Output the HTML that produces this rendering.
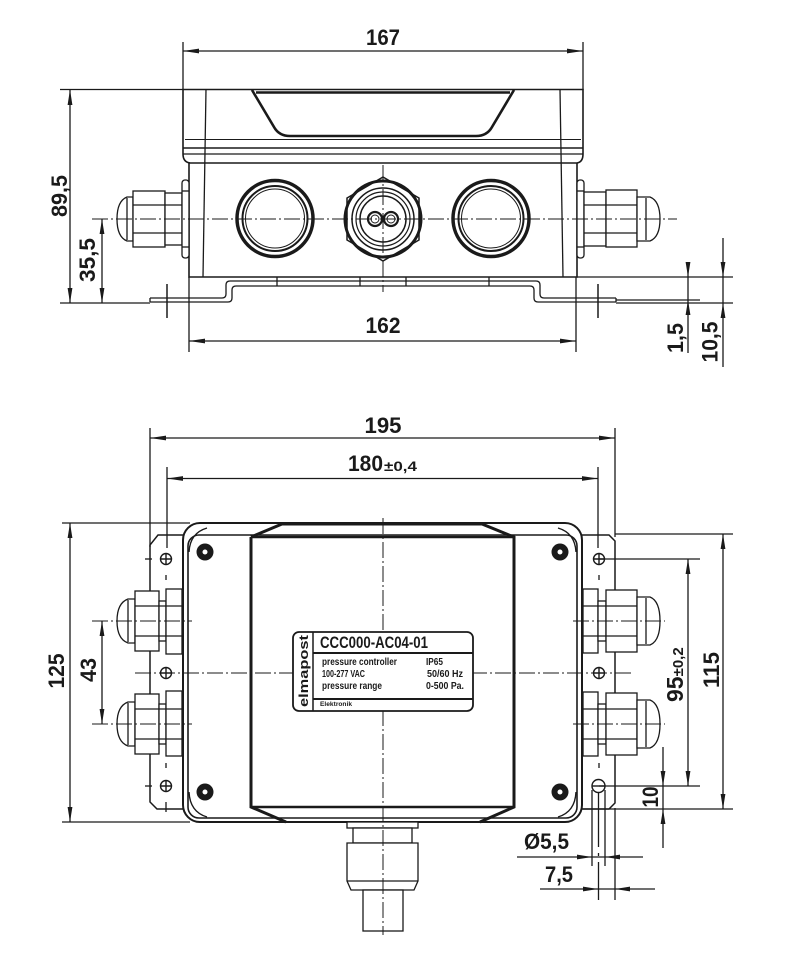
<!DOCTYPE html>
<html><head><meta charset="utf-8">
<style>
html,body{margin:0;padding:0;background:#fff;}
svg{display:block;}
text{font-family:"Liberation Sans",Arial,sans-serif;font-weight:bold;fill:#1a1a1a;}
.cl{stroke-dasharray:16 3 2 3;stroke-width:1;}
.ar{fill:#1a1a1a;stroke:none;}
</style></head><body>
<svg width="800" height="975" viewBox="0 0 800 975" xmlns="http://www.w3.org/2000/svg">
<rect x="0" y="0" width="800" height="975" fill="#fff"/>
<g fill="none" stroke="#1a1a1a" stroke-width="1.3">

<!-- ================= TOP VIEW ================= -->
<!-- 167 -->
<line x1="183" y1="42" x2="183" y2="90"/>
<line x1="583" y1="42" x2="583" y2="90"/>
<line x1="183" y1="51" x2="583" y2="51"/>
<polygon class="ar" points="183,51 199,48.6 199,53.4"/>
<polygon class="ar" points="583,51 567,48.6 567,53.4"/>

<!-- lid -->
<path d="M190,163 Q183,162 183,154 L183,89.5 L583,89.5 L583,154 Q583,162 577,163" stroke-width="1.6"/>
<line x1="256" y1="92.5" x2="510" y2="92.5" stroke-width="2.6"/>
<path d="M252,90 L274,127 Q279,136 290,136 L476,136 Q487,136 492,127 L514,90" stroke-width="2.6"/>
<line x1="206" y1="89" x2="203" y2="277"/>
<line x1="560" y1="89" x2="563" y2="277"/>
<line x1="185" y1="139.5" x2="581" y2="139.5" stroke-width="1"/>
<line x1="183" y1="148" x2="583" y2="148" stroke-width="1.6"/>
<line x1="183" y1="154" x2="583" y2="154" stroke-width="1.3"/>
<line x1="189" y1="163" x2="577" y2="163" stroke-width="1.6"/>
<!-- body -->
<path d="M189,163 L189,277 L577,277 L577,163" stroke-width="1.6"/>
<!-- base plate -->
<path d="M150,298 L222,298 Q226,298 226,294 L226,285 Q226,281 230,281 L536,281 Q540,281 540,285 L540,294 Q540,298 544,298 L616,298"/>
<path d="M150,302 L228,302 Q232,302 232,298 L232,290 Q232,286 236,286 L530,286 Q534,286 534,290 L534,298 Q534,302 538,302 L616,302"/>
<line x1="150" y1="298" x2="150" y2="302"/>
<line x1="616" y1="298" x2="616" y2="302"/>
<line x1="277" y1="277" x2="277" y2="286"/>
<line x1="360" y1="277" x2="360" y2="286"/>
<line x1="406" y1="277" x2="406" y2="286"/>
<line x1="489" y1="277" x2="489" y2="286"/>
<line x1="167" y1="284" x2="167" y2="318" stroke-width="1.5"/>
<line x1="598" y1="284" x2="598" y2="318" stroke-width="1.5"/>

<!-- holes -->
<circle cx="275" cy="218.5" r="38" stroke-width="3.5"/>
<circle cx="275" cy="218.5" r="32.5" stroke-width="2"/>
<circle cx="275" cy="218.5" r="29.5" stroke-width="1"/>
<circle cx="491" cy="218.5" r="38" stroke-width="3.5"/>
<circle cx="491" cy="218.5" r="32.5" stroke-width="2"/>
<circle cx="491" cy="218.5" r="29.5" stroke-width="1"/>
<!-- center gland front -->
<polygon points="383,177 419,198 419,240 383,261 347,240 347,198" stroke-width="1.5"/>
<circle cx="383" cy="219" r="38" stroke-width="3"/>
<circle cx="383" cy="219" r="31" stroke-width="1.5"/>
<circle cx="383" cy="219" r="27" stroke-width="1.2"/>
<circle cx="383" cy="219" r="23" stroke-width="1.5"/>
<circle cx="375" cy="219" r="7" stroke-width="2.2"/>
<circle cx="391" cy="219" r="7" stroke-width="2.2"/>
<circle cx="375" cy="219" r="4" stroke-width="1"/>
<circle cx="391" cy="219" r="4" stroke-width="1"/>

<!-- left gland (top view) -->
<g fill="#fff">
<path d="M133,197 L127,197 Q117,201 117,219 Q117,237 127,241 L133,241 Z"/>
<rect x="133" y="191" width="32" height="56"/>
<rect x="165" y="193" width="17" height="52"/>
<rect x="182" y="180" width="7" height="78" rx="3"/>
</g>
<line x1="127" y1="198" x2="127" y2="240"/>
<line x1="133" y1="205" x2="182" y2="205"/>
<line x1="133" y1="233" x2="182" y2="233"/>
<line x1="182" y1="191" x2="189" y2="191"/>
<line x1="182" y1="247" x2="189" y2="247"/>
<!-- right gland (top view) -->
<g fill="#fff">
<rect x="577" y="180" width="7" height="78" rx="3"/>
<rect x="584" y="192" width="22" height="54"/>
<rect x="606" y="190" width="31" height="57"/>
<path d="M637,197 L650,197 Q660,201 660,219 Q660,237 650,241 L637,241 Z"/>
</g>
<line x1="646" y1="198" x2="646" y2="240"/>
<line x1="584" y1="205" x2="637" y2="205"/>
<line x1="584" y1="233" x2="637" y2="233"/>
<line x1="577" y1="191" x2="584" y2="191"/>
<line x1="577" y1="247" x2="584" y2="247"/>

<!-- centerlines top -->
<line class="cl" x1="92" y1="219" x2="677" y2="219"/>
<line class="cl" x1="383" y1="165" x2="383" y2="292"/>

<!-- left dims top -->
<line x1="60" y1="89.5" x2="183" y2="89.5"/>
<line x1="70" y1="89.5" x2="70" y2="303"/>
<polygon class="ar" points="70,89.5 67.6,105 72.4,105"/>
<polygon class="ar" points="70,303 67.6,288 72.4,288"/>
<line x1="60" y1="303" x2="150" y2="303"/>
<line x1="102" y1="219" x2="102" y2="303"/>
<polygon class="ar" points="102,219 99.6,234 104.4,234"/>
<polygon class="ar" points="102,303 99.6,288 104.4,288"/>

<!-- 162 -->
<line x1="189" y1="277" x2="189" y2="352"/>
<line x1="576" y1="277" x2="576" y2="352"/>
<line x1="189" y1="341" x2="576" y2="341"/>
<polygon class="ar" points="189,341 205,338.6 205,343.4"/>
<polygon class="ar" points="576,341 560,338.6 560,343.4"/>

<!-- right dims top -->
<line x1="577" y1="277" x2="733" y2="277"/>
<line x1="616" y1="300" x2="700" y2="300"/>
<line x1="616" y1="303" x2="733" y2="303"/>
<line x1="688" y1="262" x2="688" y2="353"/>
<polygon class="ar" points="688,277 685.6,262 690.4,262"/>
<polygon class="ar" points="688,300 685.6,315 690.4,315"/>
<line x1="723" y1="238" x2="723" y2="367"/>
<polygon class="ar" points="723,277 720.6,262 725.4,262"/>
<polygon class="ar" points="723,303 720.6,318 725.4,318"/>

<!-- ================= BOTTOM VIEW ================= -->
<!-- 195 -->
<line x1="150" y1="428" x2="150" y2="547"/>
<line x1="615" y1="428" x2="615" y2="537"/>
<line x1="150" y1="438" x2="615" y2="438"/>
<polygon class="ar" points="150,438 166,435.6 166,440.4"/>
<polygon class="ar" points="615,438 599,435.6 599,440.4"/>
<!-- 180 -->
<line x1="167" y1="467" x2="167" y2="548"/>
<line x1="598" y1="467" x2="598" y2="548"/>
<line x1="167" y1="478.5" x2="598" y2="478.5"/>
<polygon class="ar" points="167,478.5 183,476.1 183,480.9"/>
<polygon class="ar" points="598,478.5 582,476.1 582,480.9"/>

<!-- plates -->
<path d="M183,535 L158,535 L150,545 L150,802 L157,809 L183,809" stroke-width="1.5"/>
<path d="M582,535 L609,535 L615,541 L615,803 L609,809 L582,809" stroke-width="1.5"/>
<line x1="166" y1="575" x2="166" y2="580"/>
<line x1="166" y1="763" x2="166" y2="768"/>
<line x1="166" y1="802" x2="166" y2="812"/>
<line x1="599" y1="575" x2="599" y2="580"/>
<line x1="599" y1="763" x2="599" y2="768"/>
<line x1="145" y1="559" x2="152" y2="559"/>
<line x1="145" y1="786" x2="152" y2="786"/>

<!-- box -->
<rect x="183" y="523" width="399" height="299" rx="17" stroke-width="2" fill="#fff"/>
<rect x="188" y="535" width="389" height="283" rx="11" stroke-width="1.6"/>
<path d="M189,552 Q190,533 207,528" stroke-width="1.4"/>
<path d="M576,552 Q575,533 558,528" stroke-width="1.4"/>
<path d="M189,792 Q190,812 207,817" stroke-width="1.4"/>
<path d="M576,792 Q575,812 558,817" stroke-width="1.4"/>
<!-- cover -->
<path d="M251,537 L282,524 L482,524 L514,537 L514,807 L480,822 M251,537 L251,807 L286,822" stroke-width="3"/>
<line x1="251" y1="537" x2="514" y2="537" stroke-width="2.5"/>
<line x1="251" y1="807" x2="514" y2="807" stroke-width="2.5"/>
<!-- screws -->
<g fill="#1a1a1a" stroke="none">
<circle cx="205" cy="552" r="8.5"/><circle cx="560" cy="552" r="8.5"/>
<circle cx="205" cy="792" r="8.5"/><circle cx="560" cy="792" r="8.5"/>
</g>
<g fill="#fff" stroke="none">
<circle cx="205" cy="552" r="2.5"/><circle cx="560" cy="552" r="2.5"/>
<circle cx="205" cy="792" r="2.5"/><circle cx="560" cy="792" r="2.5"/>
</g>
<!-- mounting holes -->
<g stroke-width="1.4">
<circle cx="166" cy="559" r="5.5"/><path d="M160.5,559 H171.5 M166,553.5 V564.5"/>
<circle cx="166" cy="673" r="5.5"/><path d="M160.5,673 H171.5 M166,667.5 V678.5"/>
<circle cx="166" cy="786" r="5.5"/><path d="M160.5,786 H171.5 M166,780.5 V791.5"/>
<circle cx="599" cy="559" r="5.5"/><path d="M593.5,559 H604.5 M599,553.5 V564.5"/>
<circle cx="599" cy="673" r="5.5"/><path d="M593.5,673 H604.5 M599,667.5 V678.5"/>
<circle cx="598.5" cy="786" r="6.5"/><path d="M592,786 H605"/>
</g>

<!-- left glands -->
<g fill="#fff">
<path d="M135,599 L128,599 Q117,603 117,621 Q117,639 128,643 L135,643 Z"/>
<rect x="135" y="591" width="24" height="60"/>
<rect x="159" y="601" width="7" height="40"/>
<rect x="166" y="589" width="16" height="65"/>
<path d="M135,702 L128,702 Q117,706 117,724 Q117,742 128,746 L135,746 Z"/>
<rect x="135" y="694" width="24" height="60"/>
<rect x="159" y="704" width="7" height="40"/>
<rect x="166" y="691" width="16" height="65"/>
</g>
<line x1="128" y1="600" x2="128" y2="642"/>
<line x1="128" y1="703" x2="128" y2="745"/>
<path d="M135,606 H182 M135,636 H182 M135,709 H182 M135,739 H182"/>
<!-- right glands -->
<g fill="#fff">
<rect x="583" y="589" width="15" height="64"/>
<rect x="598" y="601" width="8" height="40"/>
<rect x="606" y="590" width="31" height="62"/>
<path d="M637,597 L650,597 Q660,601 660,621 Q660,641 650,645 L637,645 Z"/>
<rect x="583" y="692" width="15" height="64"/>
<rect x="598" y="704" width="8" height="40"/>
<rect x="606" y="693" width="31" height="62"/>
<path d="M637,700 L650,700 Q660,704 660,724 Q660,744 650,748 L637,748 Z"/>
</g>
<line x1="646" y1="598" x2="646" y2="644"/>
<line x1="646" y1="701" x2="646" y2="747"/>
<path d="M583,606 H637 M583,636 H637 M583,709 H637 M583,739 H637"/>

<!-- bottom gland -->
<g fill="#fff">
<rect x="347" y="822" width="71" height="6"/>
<rect x="353" y="828" width="59" height="15"/>
<path d="M347,843 L418,843 L418,881 L414,890 L351,890 L347,881 Z"/>
<rect x="363" y="890" width="40" height="41"/>
</g>
<line x1="347" y1="881" x2="418" y2="881"/>

<!-- centerlines bottom -->
<line class="cl" x1="135" y1="673" x2="633" y2="673"/>
<line class="cl" x1="383" y1="518" x2="383" y2="935"/>
<line class="cl" x1="92" y1="621" x2="192" y2="621"/>
<line class="cl" x1="92" y1="724" x2="192" y2="724"/>
<line class="cl" x1="573" y1="621" x2="665" y2="621"/>
<line class="cl" x1="573" y1="724" x2="665" y2="724"/>

<!-- label -->
<rect x="293" y="632" width="180" height="79" rx="6" fill="#fff" stroke-width="1.8"/>
<line x1="313" y1="632" x2="313" y2="711" stroke-width="1.5"/>
<line x1="313" y1="653" x2="473" y2="653" stroke-width="2"/>
<line x1="313" y1="699" x2="473" y2="699" stroke-width="2"/>

<!-- left dims bottom -->
<line x1="62" y1="523" x2="190" y2="523"/>
<line x1="62" y1="822" x2="190" y2="822"/>
<line x1="70" y1="523" x2="70" y2="822"/>
<polygon class="ar" points="70,523 67.6,538 72.4,538"/>
<polygon class="ar" points="70,822 67.6,807 72.4,807"/>
<line x1="102" y1="621" x2="102" y2="724"/>
<polygon class="ar" points="102,621 99.6,636 104.4,636"/>
<polygon class="ar" points="102,724 99.6,709 104.4,709"/>

<!-- right dims bottom -->
<line x1="599" y1="559" x2="700" y2="559"/>
<line x1="599" y1="786" x2="700" y2="786"/>
<line x1="688" y1="559" x2="688" y2="786"/>
<polygon class="ar" points="688,559 685.6,574 690.4,574"/>
<polygon class="ar" points="688,786 685.6,771 690.4,771"/>
<line x1="615" y1="534" x2="733" y2="534"/>
<line x1="583" y1="809" x2="733" y2="809"/>
<line x1="723" y1="534" x2="723" y2="809"/>
<polygon class="ar" points="723,534 720.6,549 725.4,549"/>
<polygon class="ar" points="723,809 720.6,794 725.4,794"/>
<line x1="663" y1="747" x2="663" y2="848"/>
<polygon class="ar" points="663,786 660.6,771 665.4,771"/>
<polygon class="ar" points="663,809 660.6,824 665.4,824"/>

<!-- Ø5,5 -->
<line x1="592" y1="790" x2="592" y2="866"/>
<line x1="605" y1="790" x2="605" y2="866"/>
<line x1="517" y1="857" x2="643" y2="857"/>
<polygon class="ar" points="592,857 577,854.6 577,859.4"/>
<polygon class="ar" points="605,857 620,854.6 620,859.4"/>
<!-- 7,5 -->
<line x1="598.5" y1="792" x2="598.5" y2="900" stroke-dasharray="55 6 3 6"/>
<line x1="615" y1="808" x2="615" y2="900"/>
<line x1="540" y1="889" x2="655" y2="889"/>
<polygon class="ar" points="598,889 583,886.6 583,891.4"/>
<polygon class="ar" points="615,889 630,886.6 630,891.4"/>
</g>

<!-- ================= TEXT ================= -->
<text x="383" y="45" text-anchor="middle" font-size="22" textLength="34" lengthAdjust="spacingAndGlyphs">167</text>
<text x="383" y="333" text-anchor="middle" font-size="22" textLength="35" lengthAdjust="spacingAndGlyphs">162</text>
<text x="383" y="433" text-anchor="middle" font-size="22" textLength="37" lengthAdjust="spacingAndGlyphs">195</text>
<text x="348" y="471" font-size="22" textLength="35" lengthAdjust="spacingAndGlyphs">180</text>
<text x="384" y="471" font-size="14" textLength="33" lengthAdjust="spacingAndGlyphs">±0,4</text>

<text transform="translate(67,196) rotate(-90)" text-anchor="middle" font-size="22" textLength="42" lengthAdjust="spacingAndGlyphs">89,5</text>
<text transform="translate(95,260) rotate(-90)" text-anchor="middle" font-size="22" textLength="44" lengthAdjust="spacingAndGlyphs">35,5</text>
<text transform="translate(683,338) rotate(-90)" text-anchor="middle" font-size="22" textLength="30" lengthAdjust="spacingAndGlyphs">1,5</text>
<text transform="translate(717.5,342) rotate(-90)" text-anchor="middle" font-size="22" textLength="41" lengthAdjust="spacingAndGlyphs">10,5</text>

<text transform="translate(64,671) rotate(-90)" text-anchor="middle" font-size="22" textLength="35" lengthAdjust="spacingAndGlyphs">125</text>
<text transform="translate(96,670) rotate(-90)" text-anchor="middle" font-size="22" textLength="24" lengthAdjust="spacingAndGlyphs">43</text>
<text transform="translate(719,670) rotate(-90)" text-anchor="middle" font-size="22" textLength="36" lengthAdjust="spacingAndGlyphs">115</text>
<text transform="translate(683,702) rotate(-90)" font-size="23">95<tspan font-size="15">±0,2</tspan></text>
<text transform="translate(658,797) rotate(-90)" text-anchor="middle" font-size="22" textLength="21" lengthAdjust="spacingAndGlyphs">10</text>
<text x="524" y="849" font-size="22" textLength="45" lengthAdjust="spacingAndGlyphs">Ø5,5</text>
<text x="545" y="882" font-size="22" textLength="28" lengthAdjust="spacingAndGlyphs">7,5</text>

<!-- label text -->
<text transform="translate(308,671) rotate(-90)" text-anchor="middle" font-size="13" textLength="72" lengthAdjust="spacingAndGlyphs">elmapost</text>
<text x="320" y="648" font-size="17" textLength="108" lengthAdjust="spacingAndGlyphs">CCC000-AC04-01</text>
<text x="322" y="665" font-size="10" textLength="75" lengthAdjust="spacingAndGlyphs">pressure controller</text>
<text x="322" y="677" font-size="10" textLength="43" lengthAdjust="spacingAndGlyphs">100-277 VAC</text>
<text x="322" y="689" font-size="10" textLength="60" lengthAdjust="spacingAndGlyphs">pressure range</text>
<text x="426" y="665" font-size="10" textLength="17" lengthAdjust="spacingAndGlyphs">IP65</text>
<text x="427" y="677" font-size="10" textLength="36" lengthAdjust="spacingAndGlyphs">50/60 Hz</text>
<text x="426" y="689" font-size="10" textLength="38" lengthAdjust="spacingAndGlyphs">0-500 Pa.</text>
<text x="320" y="706" font-size="6" textLength="32" lengthAdjust="spacingAndGlyphs">Elektronik</text>
</svg>
</body></html>
